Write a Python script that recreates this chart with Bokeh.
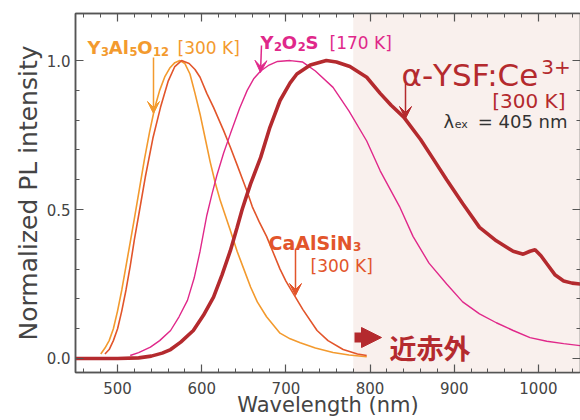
from bokeh.plotting import figure
from bokeh.models import Range1d, FixedTicker, LinearAxis, Label, Arrow, VeeHead, NormalHead, BoxAnnotation
from bokeh.embed import file_html
from bokeh.resources import INLINE

# ---------------- data ----------------
x_ticks = [500, 600, 700, 800, 900, 1000]
x_tick_labels = ["500", "600", "700", "800", "900", "1000"]
x_minor = [460, 480, 520, 540, 560, 580, 620, 640, 660, 680, 720, 740, 760, 780,
           820, 840, 860, 880, 920, 940, 960, 980, 1020, 1040]
y_ticks = [0.0, 0.5, 1.0]
y_tick_labels = ["0.0", "0.5", "1.0"]
y_minor = [0.1, 0.2, 0.3, 0.4, 0.6, 0.7, 0.8, 0.9]

nir_start = 780  # shaded near-infrared region begins here (nm)

yag_wl = [480, 485, 490, 495, 500, 505, 510, 515, 520, 526, 532, 538, 544, 550, 556, 562, 568, 574,
          580, 586, 592, 598, 604, 610, 616, 622, 628, 634, 642, 650, 658, 666, 677, 693, 705, 717,
          735, 756, 775, 796]
yag_int = [0.015, 0.035, 0.06, 0.10, 0.16, 0.23, 0.31, 0.39, 0.47, 0.57, 0.67, 0.76, 0.84, 0.90,
           0.945, 0.975, 0.993, 1.0, 0.99, 0.955, 0.89, 0.82, 0.74, 0.66, 0.59, 0.53, 0.48, 0.43,
           0.36, 0.30, 0.24, 0.19, 0.14, 0.085, 0.066, 0.053, 0.035, 0.02, 0.012, 0.006]

cas_wl = [485, 490, 495, 500, 505, 510, 515, 520, 525, 533, 542, 551, 560, 568, 576, 585, 592, 598,
          606, 614, 626, 634, 642, 650, 654, 660, 668, 677, 685, 693, 700, 709, 720, 737, 750, 768,
          785, 796]
cas_int = [0.015, 0.03, 0.06, 0.10, 0.16, 0.23, 0.31, 0.40, 0.48, 0.61, 0.74, 0.843, 0.93, 0.98,
           1.0, 0.99, 0.97, 0.944, 0.89, 0.843, 0.765, 0.709, 0.65, 0.59, 0.56, 0.51, 0.46, 0.41,
           0.355, 0.30, 0.26, 0.217, 0.165, 0.094, 0.06, 0.03, 0.015, 0.01]

yos_wl = [515, 525, 539, 550, 563, 573, 583, 591, 598, 606, 612, 618, 626, 634, 645, 654, 662, 670,
          680, 690, 705, 720, 735, 756, 775, 796, 812, 835, 851, 870, 891, 910, 930, 950, 970, 990,
          1010, 1030, 1050]
yos_int = [0.01, 0.02, 0.038, 0.06, 0.094, 0.14, 0.195, 0.27, 0.36, 0.48, 0.55, 0.615, 0.69, 0.754,
           0.84, 0.90, 0.94, 0.965, 0.985, 0.997, 1.0, 0.995, 0.965, 0.91, 0.83, 0.73, 0.63, 0.51,
           0.41, 0.32, 0.25, 0.19, 0.15, 0.12, 0.094, 0.07, 0.058, 0.05, 0.043]

ysf_wl = [450, 500, 525, 540, 553, 563, 575, 590, 602, 614, 624, 634, 642, 648, 652, 658, 670, 681,
          693, 705, 713, 729, 748, 760, 776, 796, 812, 825, 840, 860, 875, 891, 910, 930, 950, 970,
          982, 990, 996, 1003, 1010, 1020, 1030, 1040, 1050]
ysf_int = [0.0, 0.0, 0.002, 0.008, 0.018, 0.03, 0.055, 0.094, 0.145, 0.206, 0.28, 0.362, 0.44,
           0.50, 0.535, 0.586, 0.675, 0.776, 0.866, 0.925, 0.955, 0.985, 1.0, 0.995, 0.98, 0.944,
           0.89, 0.85, 0.81, 0.735, 0.67, 0.60, 0.52, 0.44, 0.395, 0.36, 0.35, 0.36, 0.365, 0.345,
           0.318, 0.28, 0.26, 0.253, 0.25]

# ---------------- styles ----------------
ORANGE = "#f39a2e"
REDOR = "#e2552b"
MAGENTA = "#e0288a"
DARKRED = "#b42a2e"
AXIS = "#555555"
FONT = "DejaVu Sans"

X0, X1 = 450, 1050
Y0, Y1 = -0.047, 1.158

p = figure(width=580, height=420, output_backend="svg", toolbar_location=None,
           x_range=Range1d(X0, X1), y_range=Range1d(Y0, Y1),
           min_border_left=75, min_border_right=0, min_border_top=13, min_border_bottom=48)
p.grid.visible = False
p.outline_line_color = AXIS
p.outline_line_width = 1.5
p.background_fill_color = "white"
p.border_fill_color = "white"

# reference-pixel -> data helpers (frame spans px 75..580 x 13..372)
FL, FR, FT, FB = 75, 580, 13, 372
def dx(px):
    return X0 + (px - FL) * (X1 - X0) / (FR - FL)
def dy(py):
    return Y0 + (FB - py) * (Y1 - Y0) / (FB - FT)

p.add_layout(BoxAnnotation(left=nir_start, fill_color="#f9f0ed", fill_alpha=1.0,
                           line_color=None, level="underlay"))

def style_axis(ax, ticks, minor, labels, show_labels):
    ax.ticker = FixedTicker(ticks=ticks, minor_ticks=minor)
    ax.axis_line_color = AXIS
    ax.axis_line_width = 1.5
    ax.major_tick_line_color = AXIS
    ax.minor_tick_line_color = AXIS
    ax.major_tick_line_width = 1.2
    ax.minor_tick_line_width = 1.0
    ax.major_tick_in = 8
    ax.major_tick_out = 0
    ax.minor_tick_in = 4
    ax.minor_tick_out = 0
    ax.major_label_text_font = FONT
    if show_labels:
        ax.major_label_overrides = {t: l for t, l in zip(ticks, labels)}
        ax.major_label_text_color = "#444444"
        ax.major_label_text_font_size = "15px"
    else:
        ax.major_label_text_color = None
        ax.major_label_text_font_size = "1px"
        ax.major_label_standoff = 0

xa = p.below[0]
ya = p.left[0]
style_axis(xa, x_ticks, x_minor, x_tick_labels, True)
style_axis(ya, y_ticks, y_minor, y_tick_labels, True)
xa.major_label_standoff = 9
ya.major_label_standoff = 5
for ax, title, size in ((xa, "Wavelength (nm)", "21px"), (ya, "Normalized PL intensity", "25px")):
    ax.axis_label = title
    ax.axis_label_text_font = FONT
    ax.axis_label_text_font_style = "normal"
    ax.axis_label_text_font_size = size
    ax.axis_label_text_color = "#444444"
xa.axis_label_standoff = -4
ya.axis_label_standoff = 1

top = LinearAxis()
style_axis(top, x_ticks, x_minor, x_tick_labels, False)
p.add_layout(top, "above")
right = LinearAxis()
style_axis(right, y_ticks, y_minor, y_tick_labels, False)
p.add_layout(right, "right")

# ---------------- curves ----------------
p.line(yag_wl, yag_int, line_color=ORANGE, line_width=1.6)
p.line(cas_wl, cas_int, line_color=REDOR, line_width=1.6)
p.line(yos_wl, yos_int, line_color=MAGENTA, line_width=1.4)
p.line(ysf_wl, ysf_int, line_color=DARKRED, line_width=3.6)

# ---------------- annotations ----------------
# approximate advance widths (per 1000 em) of DejaVu Sans / DejaVu Sans Bold
W_REG = {" ": 318, "[": 390, "]": 390, "K": 656, "α": 659, "-": 361, "Y": 611, "S": 635,
         "F": 575, ":": 337, "C": 698, "e": 615, "λ": 592, "x": 592, "=": 838, "n": 634,
         "m": 974, "+": 838}
W_BOLD = {"Y": 724, "A": 774, "l": 343, "O": 850, "S": 720, "C": 734, "a": 675, "i": 343,
          "N": 837}

def text_width(t, size, bold):
    table = W_BOLD if bold else W_REG
    return sum(table.get(c, 636 if c.isdigit() else 600) for c in t) * size / 1000.0

def lab(xpx, ypx, text, size, color, bold=False, align="left", font=FONT):
    p.add_layout(Label(x=dx(xpx), y=dy(ypx), text=text, text_font=font,
                       text_font_size=f"{size}px", text_color=color,
                       text_font_style="bold" if bold else "normal",
                       text_align=align, text_baseline="alphabetic"))

def rich(xpx, ypx, parts, color):
    """parts: (text, size, bold, baseline shift) drawn left to right"""
    x = xpx
    for t, size, bold, shift in parts:
        lab(x, ypx + shift, t, size, color, bold)
        x += text_width(t, size, bold) + 0.5

def arrow(x0, y0, x1, y1, color, size=12, width=1.5):
    p.add_layout(Arrow(x_start=dx(x0), y_start=dy(y0), x_end=dx(x1), y_end=dy(y1),
                       line_color=color, line_width=width,
                       end=VeeHead(size=size, fill_color=color, line_color=color, line_width=1)))

# Y3Al5O12 [300 K]
rich(87, 47, [("Y", 18, True, 0), ("3", 11.5, True, 4), ("Al", 18, True, 0),
              ("5", 11.5, True, 4), ("O", 18, True, 0), ("12", 11.5, True, 4)], ORANGE)
lab(177, 47, "[300 K]", 17, ORANGE)
arrow(153, 57, 153, 113, ORANGE)

# Y2O2S [170 K]
rich(260, 42, [("Y", 18, True, 0), ("2", 11.5, True, 4), ("O", 18, True, 0),
               ("2", 11.5, True, 4), ("S", 18, True, 0)], MAGENTA)
lab(329, 42, "[170 K]", 17, MAGENTA)
arrow(261, 45, 260, 72, MAGENTA)

# CaAlSiN3 [300 K]
rich(268, 242, [("CaAlSiN", 19, True, 0), ("3", 12, True, 4)], REDOR)
lab(310, 265, "[300 K]", 17, REDOR)
arrow(295, 248, 295, 295, REDOR)

# alpha-YSF:Ce3+
rich(401, 74, [("α-YSF:Ce", 31, False, 0), ("3+", 20, False, -8)], DARKRED)
lab(565, 100, "[300 K]", 20, DARKRED, align="right")
rich(443, 121, [("λ", 18, False, 0), ("ex", 11, False, 3)], "#333333")
lab(567, 121, "= 405 nm", 18, "#333333", align="right")
arrow(405, 83, 405, 118, DARKRED)

# near-infrared marker
p.add_layout(Arrow(x_start=dx(354), y_start=dy(337), x_end=dx(381), y_end=dy(337),
                   line_color=DARKRED, line_width=10,
                   end=NormalHead(size=20, fill_color=DARKRED, line_color=DARKRED, line_width=1)))
lab(389, 347, "近赤外", 27, DARKRED, True, font="Noto Sans CJK JP")

open("out.html", "w").write(file_html(p, INLINE))
